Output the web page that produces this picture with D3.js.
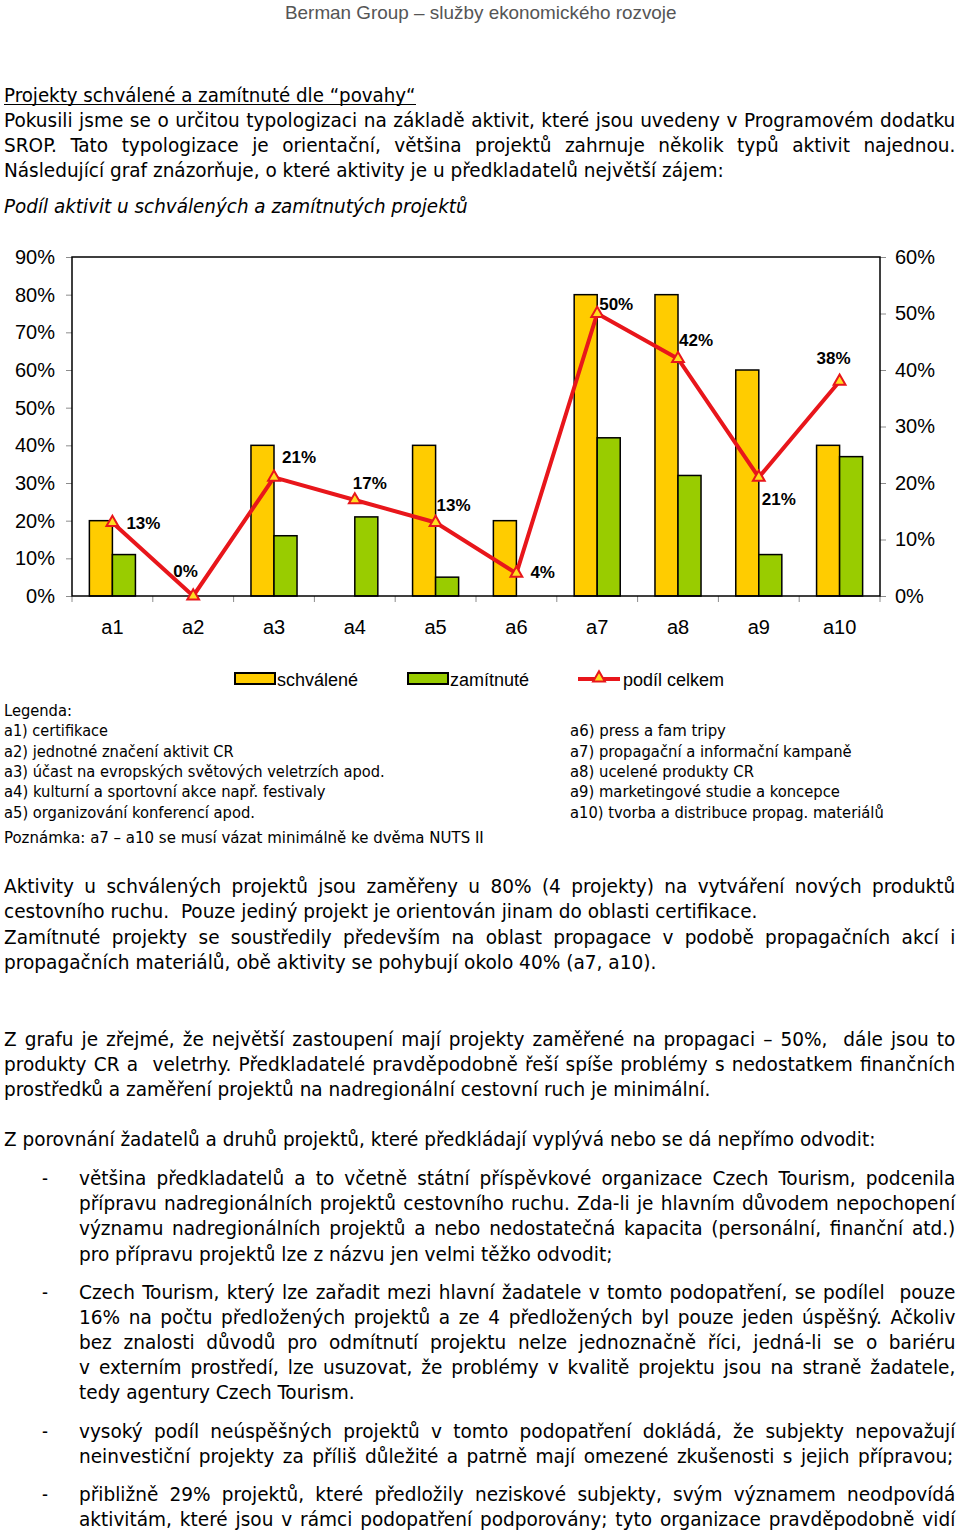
<!DOCTYPE html>
<html lang="cs">
<head>
<meta charset="utf-8">
<title>Podíl aktivit u schválených a zamítnutých projektů</title>
<script src="https://cdn.jsdelivr.net/npm/d3@7"></script>
<style>
  body { margin: 0; background: #ffffff; }
  svg { display: block; }
  text { fill: #000; }
  .chart text { font-family: "Liberation Sans", Arial, sans-serif; }
  .body, .small, .title, .italic { font-family: "DejaVu Sans Condensed", "DejaVu Sans", sans-serif; white-space: pre; }
  .body, .title, .italic { font-size: 19px; }
  .small { font-size: 16px; }
  .italic { font-style: italic; }
  .header { font-family: "Liberation Sans Narrow", "Liberation Sans", Arial, sans-serif; font-size: 18px; fill: #555; }
</style>
</head>
<body>
<svg id="page"></svg>
<script>
// chart data
const categories = ["a1", "a2", "a3", "a4", "a5", "a6", "a7", "a8", "a9", "a10"];
const approved = [20, 0, 40, 0, 40, 20, 80, 80, 60, 40];    // schválené (left axis)
const rejected = [11, 0, 16, 21, 5, 0, 42, 32, 11, 37];     // zamítnuté (left axis)
const totalShare = [13, 0, 21, 17, 13, 4, 50, 42, 21, 38];  // podíl celkem (right axis)
const leftTicks = [0, 10, 20, 30, 40, 50, 60, 70, 80, 90];
const rightTicks = [0, 10, 20, 30, 40, 50, 60];
const seriesNames = ["schválené", "zamítnuté", "podíl celkem"];

// where each "podíl celkem" label sits next to its marker (dx, dy)
const labelOffsets = [[14, 0], [-20, -25], [8, -20], [-2, -17], [1, -18], [14, -1], [2, -10], [1, -19], [3, 22], [-23, -23]];

// page text
const headerLines = [{ text: "Berman Group – služby ekonomického rozvoje", x0: 285, x1: 677, y: 19 }];
const titleLines = [{ text: "Projekty schválené a zamítnuté dle “povahy“", x0: 4, x1: 416, y: 102 }];
const italicLines = [{ text: "Podíl aktivit u schválených a zamítnutých projektů", x0: 4, x1: 468, y: 213 }];

const bodyLines = [
  { text: "Pokusili jsme se o určitou typologizaci na základě aktivit, které jsou uvedeny v Programovém dodatku", x0: 4, x1: 956, y: 127, just: true },
  { text: "SROP. Tato typologizace je orientační, většina projektů zahrnuje několik typů aktivit najednou.", x0: 4, x1: 956, y: 152, just: true },
  { text: "Následující graf znázorňuje, o které aktivity je u předkladatelů největší zájem:", x0: 4, x1: 724, y: 177 },

  { text: "Aktivity u schválených projektů jsou zaměřeny u 80% (4 projekty) na vytváření nových produktů", x0: 4, x1: 956, y: 893, just: true },
  { text: "cestovního ruchu.  Pouze jediný projekt je orientován jinam do oblasti certifikace.", x0: 4, x1: 758, y: 918 },
  { text: "Zamítnuté projekty se soustředily především na oblast propagace v podobě propagačních akcí i", x0: 4, x1: 956, y: 944, just: true },
  { text: "propagačních materiálů, obě aktivity se pohybují okolo 40% (a7, a10).", x0: 4, x1: 657, y: 969 },

  { text: "Z grafu je zřejmé, že největší zastoupení mají projekty zaměřené na propagaci – 50%,  dále jsou to", x0: 4, x1: 956, y: 1046, just: true },
  { text: "produkty CR a  veletrhy. Předkladatelé pravděpodobně řeší spíše problémy s nedostatkem finančních", x0: 4, x1: 956, y: 1071, just: true },
  { text: "prostředků a zaměření projektů na nadregionální cestovní ruch je minimální.", x0: 4, x1: 711, y: 1096 },

  { text: "Z porovnání žadatelů a druhů projektů, které předkládají vyplývá nebo se dá nepřímo odvodit:", x0: 4, x1: 876, y: 1146 },

  { text: "-", x0: 42, x1: 48, y: 1185 },
  { text: "většina předkladatelů a to včetně státní příspěvkové organizace Czech Tourism, podcenila", x0: 79, x1: 956, y: 1185, just: true },
  { text: "přípravu nadregionálních projektů cestovního ruchu. Zda-li je hlavním důvodem nepochopení", x0: 79, x1: 956, y: 1210, just: true },
  { text: "významu nadregionálních projektů a nebo nedostatečná kapacita (personální, finanční atd.)", x0: 79, x1: 956, y: 1235, just: true },
  { text: "pro přípravu projektů lze z názvu jen velmi těžko odvodit;", x0: 79, x1: 613, y: 1261 },

  { text: "-", x0: 42, x1: 48, y: 1299 },
  { text: "Czech Tourism, který lze zařadit mezi hlavní žadatele v tomto podopatření, se podílel  pouze", x0: 79, x1: 956, y: 1299, just: true },
  { text: "16% na počtu předložených projektů a ze 4 předložených byl pouze jeden úspěšný. Ačkoliv", x0: 79, x1: 956, y: 1324, just: true },
  { text: "bez znalosti důvodů pro odmítnutí projektu nelze jednoznačně říci, jedná-li se o bariéru", x0: 79, x1: 956, y: 1349, just: true },
  { text: "v externím prostředí, lze usuzovat, že problémy v kvalitě projektu jsou na straně žadatele,", x0: 79, x1: 956, y: 1374, just: true },
  { text: "tedy agentury Czech Tourism.", x0: 79, x1: 355, y: 1399 },

  { text: "-", x0: 42, x1: 48, y: 1438 },
  { text: "vysoký podíl neúspěšných projektů v tomto podopatření dokládá, že subjekty nepovažují", x0: 79, x1: 956, y: 1438, just: true },
  { text: "neinvestiční projekty za příliš důležité a patrně mají omezené zkušenosti s jejich přípravou;", x0: 79, x1: 954, y: 1463, just: true },

  { text: "-", x0: 42, x1: 48, y: 1501 },
  { text: "přibližně 29% projektů, které předložily neziskové subjekty, svým významem neodpovídá", x0: 79, x1: 956, y: 1501, just: true },
  { text: "aktivitám, které jsou v rámci podopatření podporovány; tyto organizace pravděpodobně vidí", x0: 79, x1: 956, y: 1526, just: true }
];

const legendLines = [
  { text: "Legenda:", x0: 4, x1: 72, y: 716 },
  { text: "a1) certifikace", x0: 4, x1: 108, y: 736 },
  { text: "a2) jednotné značení aktivit CR", x0: 4, x1: 234, y: 757 },
  { text: "a3) účast na evropských světových veletrzích apod.", x0: 4, x1: 385, y: 777 },
  { text: "a4) kulturní a sportovní akce např. festivaly", x0: 4, x1: 326, y: 797 },
  { text: "a5) organizování konferencí apod.", x0: 4, x1: 255, y: 818 },
  { text: "a6) press a fam tripy", x0: 570, x1: 726, y: 736 },
  { text: "a7) propagační a informační kampaně", x0: 570, x1: 852, y: 757 },
  { text: "a8) ucelené produkty CR", x0: 570, x1: 754, y: 777 },
  { text: "a9) marketingové studie a koncepce", x0: 570, x1: 840, y: 797 },
  { text: "a10) tvorba a distribuce propag. materiálů", x0: 570, x1: 884, y: 818 },
  { text: "Poznámka: a7 – a10 se musí vázat minimálně ke dvěma NUTS II", x0: 4, x1: 484, y: 843 }
];

const svg = d3.select("#page").attr("width", 960).attr("height", 1533);

// lines of text squeezed to the widths in the original document
function drawLines(lines, cls) {
  const g = svg.append("g");
  const items = lines.map(l => {
    const t = g.append("text").attr("class", cls).text(l.text);
    return { l, t, w: t.node().getComputedTextLength() };
  });
  const free = items.filter(d => !d.l.just && d.l.text.length > 3).map(d => (d.l.x1 - d.l.x0) / d.w);
  const k = free.length ? d3.median(free) : 1;
  items.forEach(({ l, t, w }) => {
    const target = l.x1 - l.x0;
    let s = l.just ? k : target / w;
    let ws = 0;
    const spaces = (l.text.match(/ /g) || []).length;
    if (l.just && spaces) {
      ws = (target / s - w) / spaces;
      if (ws < 0) { s = target / w; ws = 0; }
    }
    t.attr("transform", `translate(${l.x0},${l.y}) scale(${s},1)`)
     .attr("word-spacing", ws);
  });
  return g;
}

drawLines(headerLines, "header");
drawLines(titleLines, "title");
svg.append("line").attr("x1", 4).attr("x2", 416).attr("y1", 104.5).attr("y2", 104.5)
   .attr("stroke", "#000").attr("stroke-width", 1.2);
drawLines(italicLines, "italic");
drawLines(bodyLines, "body");
drawLines(legendLines, "small");

// chart
const plot = { left: 72, right: 880, top: 257, bottom: 596 };
const colors = { approved: "#ffcc00", rejected: "#99cc00", line: "#e8161b", marker: "#ffdd22" };

const x = d3.scaleBand().domain(categories).range([plot.left, plot.right]);
const yLeft = d3.scaleLinear().domain([0, 90]).range([plot.bottom, plot.top]);
const yRight = d3.scaleLinear().domain([0, 60]).range([plot.bottom, plot.top]);
const barW = x.bandwidth() * 0.285;
const chart = svg.append("g").attr("class", "chart");

// left axis
chart.append("g")
  .attr("transform", `translate(${plot.left},0)`)
  .call(d3.axisLeft(yLeft).tickValues(leftTicks).tickFormat(d => d + "%").tickSize(6).tickPadding(11))
  .call(g => g.select(".domain").remove())
  .call(g => g.selectAll(".tick line").attr("stroke", "#8c8c8c"))
  .attr("font-size", 20);

// right axis
chart.append("g")
  .attr("transform", `translate(${plot.right},0)`)
  .call(d3.axisRight(yRight).tickValues(rightTicks).tickFormat(d => d + "%").tickSize(6).tickPadding(9))
  .call(g => g.select(".domain").remove())
  .call(g => g.selectAll(".tick line").attr("stroke", "#8c8c8c"))
  .attr("font-size", 20);

// category axis: labels centred, ticks between categories
chart.append("g")
  .attr("transform", `translate(0,${plot.bottom})`)
  .call(d3.axisBottom(x).tickSize(0).tickPadding(24))
  .call(g => g.select(".domain").remove())
  .attr("font-size", 20);

chart.append("g").selectAll("line")
  .data(d3.range(categories.length + 1))
  .join("line")
    .attr("x1", i => plot.left + i * x.step())
    .attr("x2", i => plot.left + i * x.step())
    .attr("y1", plot.bottom)
    .attr("y2", plot.bottom + 6)
    .attr("stroke", "#8c8c8c");

// bars
const barData = [
  { key: "approved", values: approved, shift: -barW },
  { key: "rejected", values: rejected, shift: 0 }
];
const bars = chart.append("g").attr("stroke", "#000").attr("stroke-width", 1.5);
barData.forEach(s => {
  bars.selectAll("." + s.key)
    .data(categories.map((c, i) => ({ cat: c, value: s.values[i] })).filter(d => d.value > 0))
    .join("rect")
      .attr("class", s.key)
      .attr("x", d => x(d.cat) + x.bandwidth() / 2 + s.shift)
      .attr("y", d => yLeft(d.value))
      .attr("width", barW)
      .attr("height", d => plot.bottom - yLeft(d.value))
      .attr("fill", colors[s.key]);
});

// plot frame
chart.append("rect")
  .attr("x", plot.left).attr("y", plot.top)
  .attr("width", plot.right - plot.left).attr("height", plot.bottom - plot.top)
  .attr("fill", "none").attr("stroke", "#000").attr("stroke-width", 1.5);

// share line
const points = categories.map((c, i) => ({
  cat: c, value: totalShare[i],
  cx: x(c) + x.bandwidth() / 2, cy: yRight(totalShare[i])
}));

chart.append("path")
  .datum(points)
  .attr("d", d3.line().x(d => d.cx).y(d => d.cy))
  .attr("fill", "none")
  .attr("stroke", colors.line)
  .attr("stroke-width", 4)
  .attr("stroke-linejoin", "round");

chart.append("g").selectAll("path")
  .data(points)
  .join("path")
    .attr("transform", d => `translate(${d.cx},${d.cy})`)
    .attr("d", d3.symbol(d3.symbolTriangle, 60))
    .attr("fill", colors.marker)
    .attr("stroke", colors.line)
    .attr("stroke-width", 2);

chart.append("g").selectAll("text")
  .data(points)
  .join("text")
    .attr("x", (d, i) => d.cx + labelOffsets[i][0])
    .attr("y", (d, i) => d.cy + labelOffsets[i][1] + 6)
    .attr("font-size", 17)
    .attr("font-weight", "bold")
    .text(d => d.value + "%");

// series legend
const legend = chart.append("g").attr("transform", "translate(0,679)");
const legendX = [235, 408, 578];
seriesNames.forEach((name, i) => {
  const g = legend.append("g").attr("transform", `translate(${legendX[i]},0)`);
  if (i < 2) {
    g.append("rect").attr("x", 0).attr("y", -6).attr("width", 40).attr("height", 11)
      .attr("fill", i === 0 ? colors.approved : colors.rejected)
      .attr("stroke", "#000").attr("stroke-width", 2);
  } else {
    g.append("line").attr("x1", 0).attr("x2", 42).attr("y1", 0).attr("y2", 0)
      .attr("stroke", colors.line).attr("stroke-width", 4);
    g.append("path").attr("transform", "translate(21,-1)")
      .attr("d", d3.symbol(d3.symbolTriangle, 60))
      .attr("fill", colors.marker).attr("stroke", colors.line).attr("stroke-width", 2);
  }
  g.append("text").attr("x", i < 2 ? 42 : 45).attr("y", 6.5)
    .attr("font-size", 18).text(name);
});
</script>
</body>
</html>
